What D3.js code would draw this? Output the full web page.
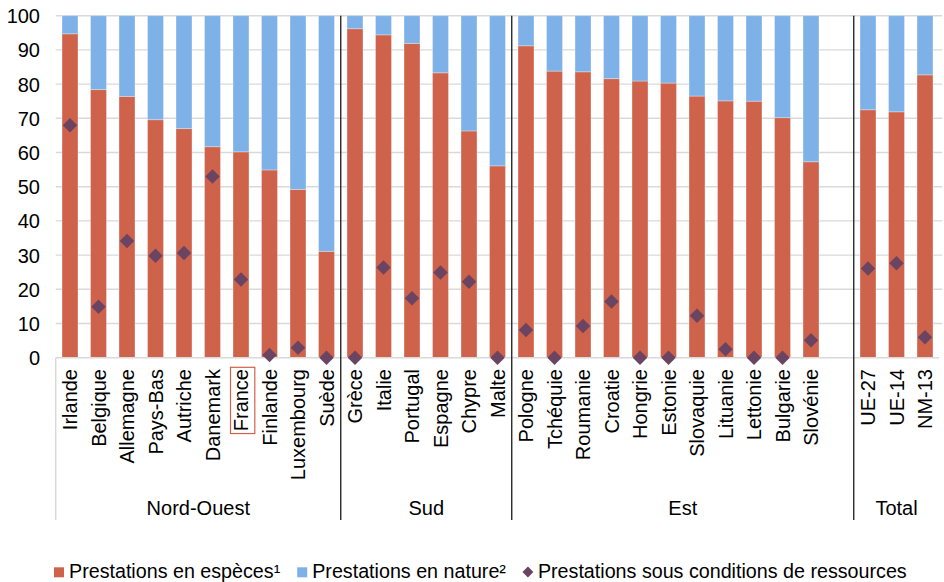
<!DOCTYPE html>
<html>
<head>
<meta charset="utf-8">
<script src="https://cdn.jsdelivr.net/npm/d3@7"></script>
<style>
  html, body { margin: 0; padding: 0; background: #fff; }
  svg { display: block; font-family: "Liberation Sans", Arial, sans-serif; }
</style>
</head>
<body>
<svg id="chart" width="944" height="582"></svg>
<script>
// ---- Data ----
const groupNames = ["Nord-Ouest", "Sud", "Est", "Total"];
const nordOuest = ["Irlande", "Belgique", "Allemagne", "Pays-Bas", "Autriche", "Danemark", "France", "Finlande", "Luxembourg", "Suède"];
const sud = ["Grèce", "Italie", "Portugal", "Espagne", "Chypre", "Malte"];
const est = ["Pologne", "Tchéquie", "Roumanie", "Croatie", "Hongrie", "Estonie", "Slovaquie", "Lituanie", "Lettonie", "Bulgarie", "Slovénie"];
const total = ["UE-27", "UE-14", "NM-13"];

const especes = [94.7, 78.4, 76.4, 69.6, 67.0, 61.7, 60.2, 54.9, 49.2, 31.1,
                 96.2, 94.4, 91.9, 83.3, 66.3, 56.1,
                 91.2, 83.8, 83.6, 81.6, 80.9, 80.3, 76.5, 75.1, 75.0, 70.2, 57.3,
                 72.5, 71.9, 82.7];
const nature  = [5.3, 21.6, 23.6, 30.4, 33.0, 38.3, 39.8, 45.1, 50.8, 68.9,
                 3.8, 5.6, 8.1, 16.7, 33.7, 43.9,
                 8.8, 16.2, 16.4, 18.4, 19.1, 19.7, 23.5, 24.9, 25.0, 29.8, 42.7,
                 27.5, 28.1, 17.3];
const conditions = [68.0, 14.9, 34.1, 29.8, 30.6, 53.0, 22.9, 0.8, 2.9, 0.0,
                    0.0, 26.4, 17.4, 24.9, 22.2, 0.0,
                    8.1, 0.0, 9.3, 16.4, 0.0, 0.0, 12.3, 2.5, 0.0, 0.0, 5.1,
                    26.1, 27.6, 6.0];
const yTicks = [0, 10, 20, 30, 40, 50, 60, 70, 80, 90, 100];
const legendLabels = ["Prestations en espèces¹", "Prestations en nature²", "Prestations sous conditions de ressources"];

// ---- Layout ----
const svg = d3.select("#chart");
const pLeft = 55.75, pRight = 939.25, pTop = 15.7, pBottom = 357.7, axisBottom = 520;
const colRed = "#CF624A", colBlue = "#7DB1E7", colDiamond = "#6B4462";

const groups = [nordOuest, sud, est, total];
const categories = [].concat(...groups);
// slot keys: an empty slot closes the "Est" group
const slots = [...nordOuest, ...sud, ...est, "__gap__", ...total];

const x = d3.scaleBand().domain(slots).range([pLeft, pRight]).padding(0);
const y = d3.scaleLinear().domain([0, 100]).range([pBottom, pTop]);
const bw = x.bandwidth() * 0.56;

// gridlines
svg.append("g").selectAll("line").data(yTicks.filter(d => d > 0)).join("line")
  .attr("x1", pLeft).attr("x2", pRight + 3)
  .attr("y1", d => y(d)).attr("y2", d => y(d))
  .attr("stroke", "#D9D9D9").attr("stroke-width", 1.4);

// y axis labels
const yAxis = d3.axisLeft(y).tickValues(yTicks).tickSize(0).tickPadding(0);
const yg = svg.append("g").attr("transform", `translate(40,0)`).call(yAxis);
yg.select(".domain").remove();
yg.selectAll("text").attr("font-size", 20).attr("fill", "#000")
  .attr("font-family", "Liberation Sans, Arial, sans-serif").attr("dy", "0.35em");

const rows = categories.map((c, i) => ({ c, esp: especes[i], nat: nature[i], cond: conditions[i] }));

// bars: espèces
svg.append("g").selectAll("rect").data(rows).join("rect")
  .attr("x", d => x(d.c) + (x.bandwidth() - bw) / 2)
  .attr("width", bw)
  .attr("y", d => y(d.esp))
  .attr("height", d => y(0) - y(d.esp))
  .attr("fill", colRed).attr("stroke", "#fff").attr("stroke-opacity", 0.3).attr("stroke-width", 1);
// bars: nature (stacked)
svg.append("g").selectAll("rect").data(rows).join("rect")
  .attr("x", d => x(d.c) + (x.bandwidth() - bw) / 2)
  .attr("width", bw)
  .attr("y", d => y(d.esp + d.nat))
  .attr("height", d => y(d.esp) - y(d.esp + d.nat))
  .attr("fill", colBlue).attr("stroke", "#fff").attr("stroke-opacity", 0.3).attr("stroke-width", 1);

// x axis baseline
svg.append("line").attr("x1", pLeft).attr("x2", pRight)
  .attr("y1", pBottom).attr("y2", pBottom)
  .attr("stroke", "#D9D9D9").attr("stroke-width", 1.4);

// left axis vertical line in label area
svg.append("line").attr("x1", pLeft).attr("x2", pLeft)
  .attr("y1", pBottom).attr("y2", axisBottom)
  .attr("stroke", "#D0D0D0").attr("stroke-width", 1.2);

// group separators
let idx = 0;
const groupBounds = [];
const groupSizes = [nordOuest.length, sud.length, est.length + 1, total.length];
groupSizes.forEach(n => { groupBounds.push([idx, idx + n]); idx += n; });
const step = x.step();
groupBounds.slice(1).forEach(([s]) => {
  svg.append("line")
    .attr("x1", pLeft + s * step).attr("x2", pLeft + s * step)
    .attr("y1", pTop).attr("y2", axisBottom)
    .attr("stroke", "#1a1a1a").attr("stroke-width", 1.3);
});

// diamonds
const diamond = d3.symbol().type(d3.symbolSquare).size(105);
svg.append("g").selectAll("path").data(rows).join("path")
  .attr("d", diamond)
  .attr("transform", d => `translate(${x(d.c) + x.bandwidth() / 2},${y(d.cond)}) rotate(45)`)
  .attr("fill", colDiamond);

// category labels
const labG = svg.append("g");
labG.selectAll("text").data(categories).join("text")
  .attr("transform", d => `translate(${x(d) + x.bandwidth() / 2},369) rotate(-90)`)
  .attr("text-anchor", "end").attr("dy", "0.35em")
  .attr("font-size", 20).attr("fill", "#000")
  .text(d => d);

// France box
labG.selectAll("text").filter(d => d === "France").each(function () {
  const len = this.getComputedTextLength();
  const cx = x("France") + x.bandwidth() / 2;
  svg.append("rect")
    .attr("x", cx - 10.5).attr("y", 367.3)
    .attr("width", 24.3).attr("height", len + 4)
    .attr("fill", "none").attr("stroke", colRed).attr("stroke-width", 1.2);
});

// group labels
svg.append("g").selectAll("text").data(groupBounds).join("text")
  .attr("x", d => pLeft + (d[0] + d[1]) / 2 * step)
  .attr("y", 515)
  .attr("text-anchor", "middle").attr("font-size", 20).attr("fill", "#000")
  .text((d, i) => groupNames[i]);

// legend
const lg = svg.append("g");
const ly = 578;
let lx = 54;
legendLabels.forEach((lab, i) => {
  if (i < 2) {
    lg.append("rect").attr("x", lx).attr("y", 567.3).attr("width", 10).attr("height", 10)
      .attr("fill", i === 0 ? colRed : colBlue);
    lx += 15;
  } else {
    lg.append("path").attr("d", d3.symbol().type(d3.symbolSquare).size(60))
      .attr("transform", `translate(${lx + 5},572) rotate(45)`).attr("fill", colDiamond);
    lx += 15;
  }
  const t = lg.append("text").attr("x", lx).attr("y", ly).attr("font-size", 19.7).attr("fill", "#000").text(lab);
  lx += t.node().getComputedTextLength() + 17;
});
</script>
</body>
</html>
